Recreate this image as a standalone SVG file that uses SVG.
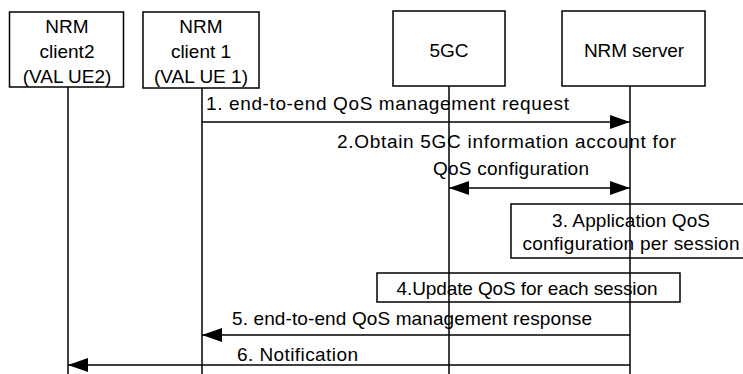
<svg xmlns="http://www.w3.org/2000/svg" width="743" height="374" viewBox="0 0 743 374">
<style>
  .box { fill: none; stroke: #000; stroke-width: 1.5; }
  .life { stroke: #000; stroke-width: 1.5; fill: none; }
  .msg { stroke: #000; stroke-width: 1.5; fill: none; }
  text { font-family: "Liberation Sans", Arial, sans-serif; font-size: 19px; fill: #000; }
  .c { text-anchor: middle; }
</style>
<defs>
  <marker id="ah" markerUnits="userSpaceOnUse" markerWidth="20" markerHeight="14" refX="20" refY="7" orient="auto-start-reverse" viewBox="0 0 20 14">
    <path d="M0,0 L20,7 L0,14 z" fill="#000"/>
  </marker>
</defs>
<rect x="0" y="0" width="743" height="374" fill="#fff"/>

<g id="client2">
  <rect class="box" x="9.5" y="12" width="114" height="75"/>
  <text class="c" x="67" y="33">NRM</text>
  <text class="c" x="67" y="58">client2</text>
  <text class="c" x="67" y="83">(VAL UE2)</text>
</g>
<g id="client1">
  <rect class="box" x="143" y="12" width="116" height="76"/>
  <text class="c" x="201" y="33">NRM</text>
  <text class="c" x="201" y="58">client 1</text>
  <text class="c" x="201" y="83">(VAL UE 1)</text>
</g>
<g id="fivegc">
  <rect class="box" x="393" y="11" width="112" height="75"/>
  <text class="c" x="449" y="57">5GC</text>
</g>
<g id="server">
  <rect class="box" x="562" y="11" width="143" height="75"/>
  <text class="c" x="634" y="57" textLength="100" lengthAdjust="spacing">NRM server</text>
</g>
<g id="step3">
  <rect class="box" x="511" y="204" width="245" height="54"/>
  <text class="c" x="631" y="227" textLength="158" lengthAdjust="spacing">3. Application QoS</text>
  <text class="c" x="631" y="250" textLength="217" lengthAdjust="spacing">configuration per session</text>
</g>
<g id="step4">
  <rect class="box" x="377" y="273" width="303" height="29"/>
  <text class="c" x="527" y="295" textLength="261" lengthAdjust="spacing">4.Update QoS for each session</text>
</g>

<g id="connectors">
  <line class="life" x1="68" y1="87" x2="68" y2="374"/>
  <line class="life" x1="202" y1="88" x2="202" y2="374"/>
  <line class="life" x1="449" y1="86" x2="449" y2="374"/>
  <line class="life" x1="630" y1="86" x2="630" y2="374"/>

  <line class="msg" x1="202" y1="122" x2="630" y2="122" marker-end="url(#ah)"/>
  <text x="206" y="110" textLength="363" lengthAdjust="spacing">1. end-to-end QoS management request</text>

  <line class="msg" x1="449" y1="188" x2="630" y2="188" marker-start="url(#ah)" marker-end="url(#ah)"/>
  <text x="337" y="148" textLength="339" lengthAdjust="spacing">2.Obtain 5GC information account for</text>
  <text x="433" y="175" textLength="156" lengthAdjust="spacing">QoS configuration</text>

  <line class="msg" x1="630" y1="335" x2="202" y2="335" marker-end="url(#ah)"/>
  <text x="232" y="325" textLength="360" lengthAdjust="spacing">5. end-to-end QoS management response</text>

  <line class="msg" x1="630" y1="365" x2="68" y2="365" marker-end="url(#ah)"/>
  <text x="237" y="361" textLength="121" lengthAdjust="spacing">6. Notification</text>
</g>
</svg>
